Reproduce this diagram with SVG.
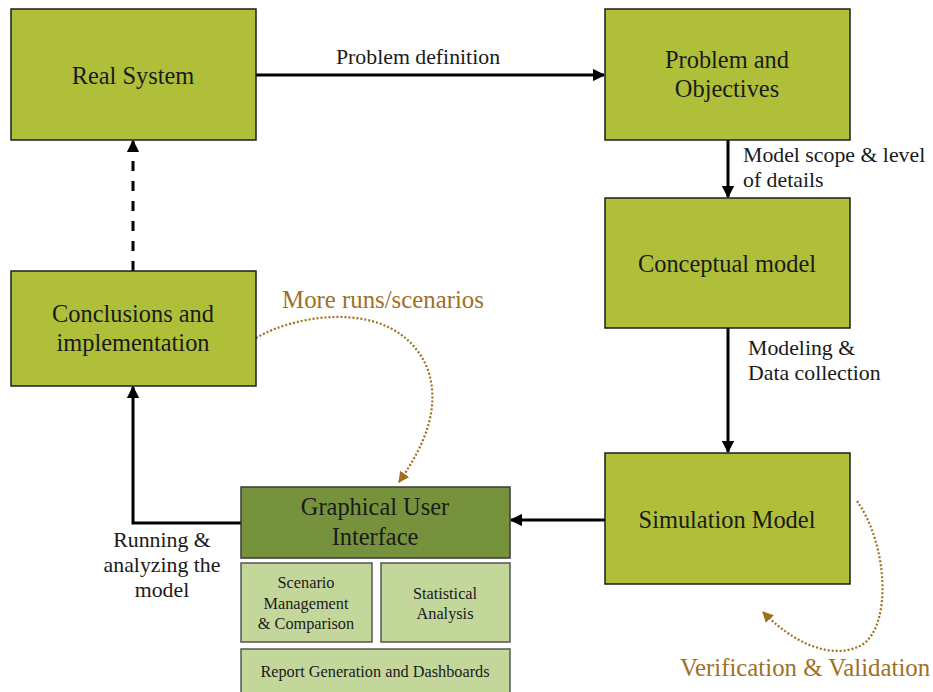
<svg xmlns="http://www.w3.org/2000/svg" width="933" height="692" viewBox="0 0 933 692">
<defs>
<style>
.box{fill:#afbf3a;stroke:#1e1e1e;stroke-width:1.5}
.gui{fill:#76923c;stroke:#3a3a3a;stroke-width:1.5}
.sub{fill:#c4d79b;stroke:#555;stroke-width:1.5}
.t{font-family:"Liberation Serif","Times New Roman",serif;fill:#1a1a1a;text-anchor:middle}
.big{font-size:24.4px}
.lbl{font-family:"Liberation Serif","Times New Roman",serif;fill:#1a1a1a;font-size:21.8px}
.small{font-size:16.3px}
.gold{font-family:"Liberation Serif","Times New Roman",serif;fill:#a0701f;font-size:24.8px;text-anchor:middle}
.conn{stroke:#000;stroke-width:3;fill:none}
.dot{stroke:#a0701f;stroke-width:2.2;fill:none;stroke-dasharray:2 2}
</style>
<marker id="ah" viewBox="0 0 10 10" refX="9" refY="5" markerWidth="4.2" markerHeight="4.2" orient="auto" markerUnits="strokeWidth">
<path d="M0,0 L10,5 L0,10 z" fill="#000"/>
</marker>
<marker id="ahg" viewBox="0 0 10 10" refX="9" refY="5" markerWidth="5" markerHeight="5" orient="auto" markerUnits="strokeWidth">
<path d="M0,0 L10,5 L0,10 z" fill="#a0701f"/>
</marker>
</defs>

<g id="connectors">
<line class="conn" x1="256" y1="75" x2="604" y2="75" marker-end="url(#ah)"/>
<line class="conn" x1="728" y1="140" x2="728" y2="197" marker-end="url(#ah)"/>
<line class="conn" x1="728" y1="328" x2="728" y2="452" marker-end="url(#ah)"/>
<line class="conn" x1="605" y1="520" x2="511" y2="520" marker-end="url(#ah)"/>
<polyline class="conn" points="241,523 133,523 133,387" marker-end="url(#ah)"/>
<line class="conn" x1="133" y1="271" x2="133" y2="141" stroke-dasharray="10 10" marker-end="url(#ah)"/>
<path class="dot" d="M256,338 C300,312 400,298 428,370 C442,412 420,452 399,482" marker-end="url(#ahg)"/>
<path class="dot" d="M857,501 C888,545 892,625 862,645 C830,662 790,640 763,612" marker-end="url(#ahg)"/>
<text class="lbl" x="418" y="64" text-anchor="middle">Problem definition</text>
<text class="lbl" x="743" y="162">Model scope &amp; level</text>
<text class="lbl" x="743" y="187">of details</text>
<text class="lbl" x="748" y="355">Modeling &amp;</text>
<text class="lbl" x="748" y="380">Data collection</text>
<text class="lbl" x="162" y="547" text-anchor="middle">Running &amp;</text>
<text class="lbl" x="162" y="572" text-anchor="middle">analyzing the</text>
<text class="lbl" x="162" y="597" text-anchor="middle">model</text>
<text class="gold" x="383" y="308">More runs/scenarios</text>
<text class="gold" x="805" y="676">Verification &amp; Validation</text>
</g>

<g id="real-system">
<rect class="box" x="11" y="9" width="245" height="131"/>
<text class="t big" x="133" y="84">Real System</text>
</g>

<g id="problem-objectives">
<rect class="box" x="605" y="9" width="245" height="131"/>
<text class="t big" x="727" y="68">Problem and</text>
<text class="t big" x="727" y="97">Objectives</text>
</g>

<g id="conceptual-model">
<rect class="box" x="605" y="198" width="245" height="130"/>
<text class="t big" x="727" y="272">Conceptual model</text>
</g>

<g id="simulation-model">
<rect class="box" x="605" y="453" width="245" height="131"/>
<text class="t big" x="727" y="528">Simulation Model</text>
</g>

<g id="conclusions">
<rect class="box" x="11" y="271" width="245" height="115"/>
<text class="t big" x="133" y="322">Conclusions and</text>
<text class="t big" x="133" y="351">implementation</text>
</g>

<g id="gui">
<rect class="gui" x="241" y="487" width="269" height="71"/>
<text class="t big" x="375" y="515">Graphical User</text>
<text class="t big" x="375" y="545">Interface</text>
</g>

<g id="scenario-management">
<rect class="sub" x="241" y="563" width="131" height="79"/>
<text class="t small" x="306" y="588">Scenario</text>
<text class="t small" x="306" y="609">Management</text>
<text class="t small" x="306" y="629">&amp; Comparison</text>
</g>

<g id="statistical-analysis">
<rect class="sub" x="381" y="563" width="129" height="79"/>
<text class="t small" x="445" y="599">Statistical</text>
<text class="t small" x="445" y="619">Analysis</text>
</g>

<g id="report-generation">
<rect class="sub" x="241" y="649" width="269" height="46"/>
<text class="t small" x="375" y="677">Report Generation and Dashboards</text>
</g>
</svg>
